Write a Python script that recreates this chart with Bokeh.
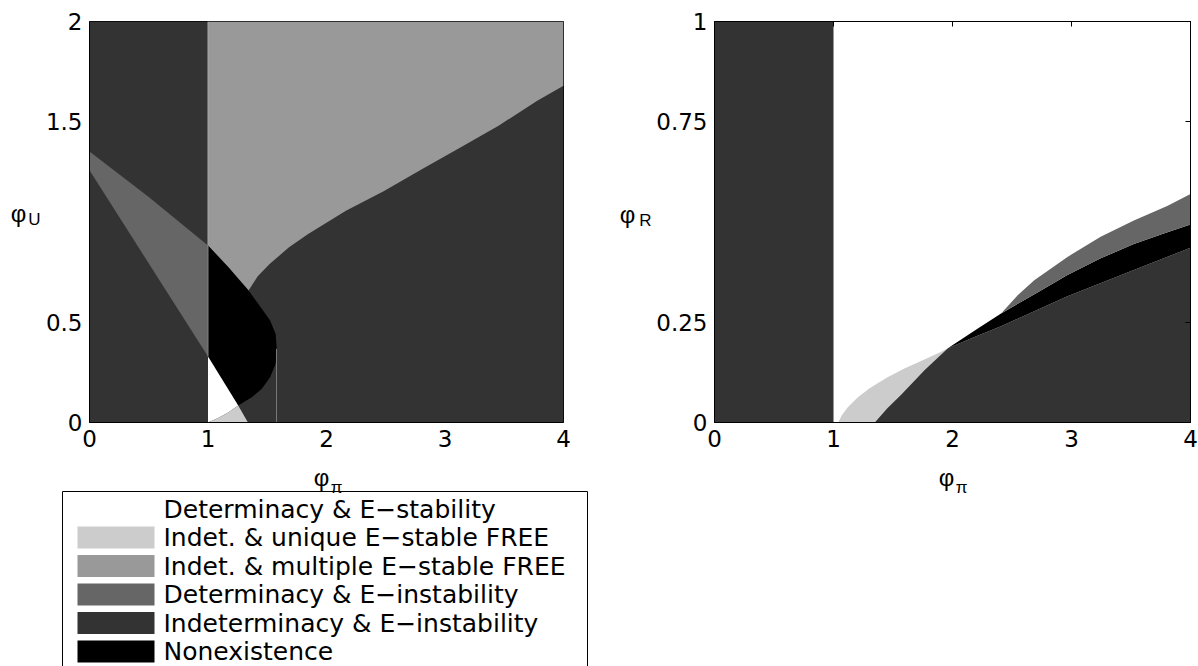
from bokeh.plotting import figure
from bokeh.layouts import row, column
from bokeh.models import Range1d, FixedTicker, LinearAxis
from bokeh.embed import file_html
from bokeh.resources import INLINE
from bokeh.core.properties import value

# ---------------- data ----------------
LEGEND_LABELS = [
    "Determinacy & E\u2212stability",
    "Indet. & unique E\u2212stable FREE",
    "Indet. & multiple E\u2212stable FREE",
    "Determinacy & E\u2212instability",
    "Indeterminacy & E\u2212instability",
    "Nonexistence",
]
LEGEND_COLORS = ["#ffffff", "#cccccc", "#999999", "#666666", "#333333", "#000000"]

# left panel: phi_pi (x) vs phi_U (y)
L_XTICKS = [0, 1, 2, 3, 4]
L_YTICKS = [0, 0.5, 1.5, 2]
L_YTICK_LABELS = ["0", "0.5", "1.5", "2"]
L_XMAX, L_YMAX = 4.0, 2.0
PHI_PI_ONE = 1.0

# lower edge of "Indet. & multiple" region (from x=4 leftwards)
MULT_LOW_X = [4.0, 3.775, 3.452, 3.13, 2.808, 2.486, 2.164, 1.842, 1.681, 1.52, 1.42, 1.342]
MULT_LOW_Y = [1.679, 1.604, 1.48, 1.372, 1.264, 1.155, 1.056, 0.939, 0.873, 0.79, 0.73, 0.658]

# Nonexistence region outline (clockwise from its top at x=1)
NONEX_X = [1.0, 1.17, 1.342, 1.454, 1.524, 1.571, 1.58, 1.571, 1.524, 1.454, 1.37, 1.255, 1.0]
NONEX_Y = [0.883, 0.775, 0.658, 0.567, 0.509, 0.442, 0.367, 0.293, 0.226, 0.168, 0.126, 0.085, 0.329]

# Determinacy & E-instability wedge
DI_X = [0.0, 0.5, 1.0, 1.0, 0.0]
DI_Y = [1.352, 1.125, 0.883, 0.329, 1.258]

# Determinacy & E-stability (white) triangle
DS_X = [1.0, 1.0, 1.255, 1.17, 1.09, 1.0]
DS_Y = [0.0, 0.329, 0.085, 0.05, 0.024, 0.0]

# Indet. & unique sliver
UN_X = [1.0, 1.09, 1.17, 1.255, 1.337]
UN_Y = [0.0, 0.024, 0.05, 0.085, 0.0]

# thin vertical boundary at the right tip of the nonexistence region
TIP_X = 1.578
TIP_Y = 0.367

# right panel: phi_pi (x) vs phi_R (y)
R_XTICKS = [0, 1, 2, 3, 4]
R_YTICKS = [0, 0.25, 0.75, 1]
R_YTICK_LABELS = ["0", "0.25", "0.75", "1"]
R_XMAX, R_YMAX = 4.0, 1.0

# upper edge of Indet. & unique region
RL_X = [1.04, 1.07, 1.12, 1.2, 1.3, 1.45, 1.6, 1.75, 1.9, 1.961]
RL_Y = [0.0, 0.018, 0.038, 0.062, 0.085, 0.112, 0.135, 0.155, 0.176, 0.185]
# upper edge of Indeterminacy & E-instability region
RD_X = [1.347, 1.45, 1.57, 1.766, 1.961, 2.2, 2.408, 2.966, 3.524, 4.0]
RD_Y = [0.0, 0.035, 0.07, 0.131, 0.185, 0.215, 0.240, 0.315, 0.380, 0.436]
# upper edge of Nonexistence band
RB_X = [1.961, 2.2, 2.408, 2.7, 2.966, 3.25, 3.524, 3.8, 4.0]
RB_Y = [0.185, 0.232, 0.272, 0.322, 0.368, 0.41, 0.445, 0.474, 0.494]
# upper edge of Determinacy & E-instability band
RG_X = [2.408, 2.55, 2.687, 2.966, 3.245, 3.524, 3.804, 4.0]
RG_Y = [0.272, 0.318, 0.355, 0.413, 0.463, 0.504, 0.540, 0.570]

TICK_FONT = "DejaVu Sans"
TICK_SIZE = "23px"
LAB_FONT = "Liberation Sans"

C_WHITE, C_LIGHT, C_MID, C_DARKMID, C_DARK, C_BLACK = LEGEND_COLORS

TOP_H = 458          # height of the plot row
BOT_H = 666 - TOP_H  # height of the lower row
BT, BB = 21, 36      # top / bottom borders of the plot row


def style_axes(p, xticks, yticks, ylabels):
    p.grid.visible = False
    p.outline_line_color = "black"
    p.xaxis.ticker = FixedTicker(ticks=xticks)
    p.yaxis.ticker = FixedTicker(ticks=yticks)
    p.xaxis.major_label_overrides = {float(t): str(t) for t in xticks}
    p.yaxis.major_label_overrides = {float(t): l for t, l in zip(yticks, ylabels)}
    for ax in (p.xaxis, p.yaxis):
        ax.major_tick_in = 0
        ax.major_tick_out = 0
        ax.minor_tick_line_color = None
        ax.axis_line_color = "black"
        ax.major_label_text_font = TICK_FONT
        ax.major_label_text_font_size = TICK_SIZE
        ax.major_label_text_color = "black"
    p.xaxis.major_label_standoff = 7
    p.yaxis.major_label_standoff = 7


def pixel_fig(w, h, x0, y_top, y_bot, bt=0, bb=0):
    f = figure(width=w, height=h, x_range=Range1d(x0, x0 + w), y_range=Range1d(y_bot, y_top),
               output_backend="svg", toolbar_location=None, min_border=0,
               min_border_top=bt, min_border_bottom=bb, min_border_left=0, min_border_right=0,
               x_axis_location=None, y_axis_location=None)
    f.grid.visible = False
    f.outline_line_color = None
    return f


def sub_label(f, xm, ym, main, xs, ys, sub):
    f.text(x=[xm], y=[ym], text=[main], text_font=value(LAB_FONT), text_font_size="24px",
           text_align="center", text_baseline="alphabetic", text_color="black")
    f.text(x=[xs], y=[ys], text=[sub], text_font=value(LAB_FONT), text_font_size="17px",
           text_align="center", text_baseline="alphabetic", text_color="black")


# ---------------- left panel ----------------
pl = figure(width=566, height=TOP_H, min_border_left=45, min_border_right=45,
            min_border_top=BT, min_border_bottom=BB,
            x_range=Range1d(0, L_XMAX), y_range=Range1d(0, L_YMAX),
            output_backend="svg", toolbar_location=None)
style_axes(pl, L_XTICKS, L_YTICKS, L_YTICK_LABELS)

pl.quad(left=0, right=L_XMAX, bottom=0, top=L_YMAX, fill_color=C_DARK, line_color=None)
pl.patch(DI_X, DI_Y, fill_color=C_DARKMID, line_color=None)
mx = [PHI_PI_ONE, L_XMAX] + MULT_LOW_X + NONEX_X[0:2][::-1]
my = [L_YMAX, L_YMAX] + MULT_LOW_Y + NONEX_Y[0:2][::-1]
pl.patch(mx, my, fill_color=C_MID, line_color=None)
pl.patch(NONEX_X, NONEX_Y, fill_color=C_BLACK, line_color=None)
pl.patch(DS_X, DS_Y, fill_color=C_WHITE, line_color=None)
pl.patch(UN_X, UN_Y, fill_color=C_LIGHT, line_color=None)
pl.line([PHI_PI_ONE, PHI_PI_ONE], [NONEX_Y[0], L_YMAX], line_color="#a8a8a8", line_width=1)
pl.line([PHI_PI_ONE, PHI_PI_ONE], [NONEX_Y[-1], NONEX_Y[0]], line_color="#808080", line_width=1)
pl.line([TIP_X, TIP_X], [0, TIP_Y], line_color="#7a7a7a", line_width=1)

# y label of left panel
ylab_l = pixel_fig(42, TOP_H, 0, BT, TOP_H - BB, bt=BT, bb=BB)
sub_label(ylab_l, 18, 213, "\u03c6", 34, 219, "U")

# legend + x label of left panel
leg = pixel_fig(600, BOT_H, 0, TOP_H, 666)
sub_label(leg, 321, 477, "\u03c6", 336, 487, "\u03c0")
leg.line([62, 62, 587, 587], [666, 491, 491, 666], line_color="black", line_width=1)
rows_y = [508.5 + 28.5 * i for i in range(len(LEGEND_LABELS))]
leg.quad(left=[77] * 6, right=[154] * 6, top=[y - 11 for y in rows_y],
         bottom=[y + 11 for y in rows_y], fill_color=LEGEND_COLORS, line_color=None)
leg.text(x=[163] * 6, y=rows_y, text=LEGEND_LABELS, text_font=value(TICK_FONT),
         text_font_size="25px", text_baseline="middle", text_align="left", text_color="black")

# ---------------- right panel ----------------
pr = figure(width=545, height=TOP_H, min_border_left=59, min_border_right=8,
            min_border_top=BT, min_border_bottom=BB,
            x_range=Range1d(0, R_XMAX), y_range=Range1d(0, R_YMAX),
            output_backend="svg", toolbar_location=None)
style_axes(pr, R_XTICKS, R_YTICKS, R_YTICK_LABELS)

for loc, tk in (("above", R_XTICKS), ("right", R_YTICKS)):
    ax = LinearAxis(ticker=FixedTicker(ticks=tk), major_tick_in=5, major_tick_out=0,
                    minor_tick_line_color=None, major_label_standoff=0,
                    major_label_overrides={float(t): "" for t in tk},
                    major_label_text_color=None, axis_line_color="black")
    pr.add_layout(ax, loc)

pr.quad(left=0, right=PHI_PI_ONE, bottom=0, top=R_YMAX, fill_color=C_DARK, line_color=None)
i_join = RD_X.index(RL_X[-1])
pr.patch(RL_X + RD_X[0:i_join + 1][::-1], RL_Y + RD_Y[0:i_join + 1][::-1],
         fill_color=C_LIGHT, line_color=None)
pr.patch(RD_X + [R_XMAX], RD_Y + [0.0], fill_color=C_DARK, line_color=None)
pr.patch(RD_X[i_join:] + RB_X[::-1], RD_Y[i_join:] + RB_Y[::-1], fill_color=C_BLACK, line_color=None)
j_join = RB_X.index(RG_X[0])
pr.patch(RB_X[j_join:] + RG_X[::-1], RB_Y[j_join:] + RG_Y[::-1], fill_color=C_DARKMID, line_color=None)

ylab_r = pixel_fig(45, TOP_H, 608, BT, TOP_H - BB, bt=BT, bb=BB)
sub_label(ylab_r, 627, 214, "\u03c6", 645, 220, "R")

xlab_r = pixel_fig(580, BOT_H, 608, TOP_H, 666)
sub_label(xlab_r, 946, 477, "\u03c6", 961, 487, "\u03c0")

layout = row(column(row(ylab_l, pl), leg), column(row(ylab_r, pr), xlab_r))
open("out.html", "w").write(file_html(layout, INLINE))
